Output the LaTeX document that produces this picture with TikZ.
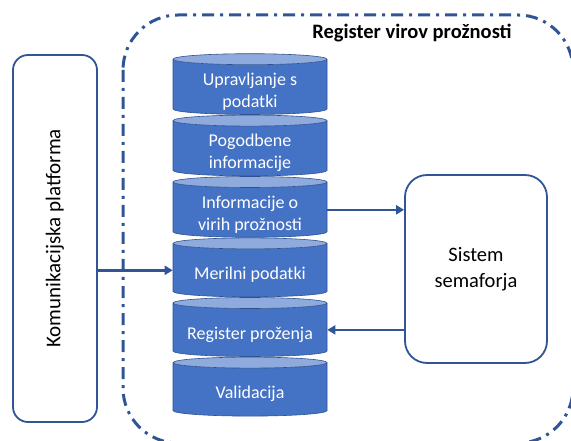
\documentclass[tikz,border=0pt]{standalone}
\usepackage{fontspec}
\setmainfont{Carlito}
\usetikzlibrary{arrows.meta, positioning, shapes.geometric}

\definecolor{dbblue}{RGB}{68,114,196}
\definecolor{dblight}{RGB}{143,170,220}
\definecolor{dbedge}{RGB}{47,82,143}
\definecolor{linkblue}{RGB}{47,85,151}

% text of a cylinder, set a little below the middle
\newcommand{\dblabel}[1]{\raisebox{-5pt}[\height][\depth]{\makebox[100pt]{\begin{tabular}{@{}c@{}}#1\end{tabular}}}}

\begin{document}
\begin{tikzpicture}[
  x=1pt, y=-1pt,
  node distance=0pt,
  every node/.style={font=\fontsize{18}{22}\selectfont},
  db/.style={cylinder, shape border rotate=90, aspect=0.11, draw=dbedge,
             line width=0.6pt, cylinder uses custom fill,
             cylinder body fill=dbblue, cylinder end fill=dblight,
             minimum width=154pt, minimum height=59pt, inner sep=0pt,
             text=white},
  panel/.style={draw=linkblue, line width=1.8pt, rounded corners=15pt,
                fill=white, align=center},
  arrow/.style={-{Triangle[length=8pt, width=9pt]}, line width=2.5pt, draw=linkblue},
  frame/.style={draw=linkblue, line width=3pt, rounded corners=55pt,
                dash pattern=on 12pt off 6pt on 3pt off 6pt}
]
\useasboundingbox (0,0) rectangle (571,441);

%% Frame
\draw[frame] (123,15) rectangle (573,443);
\node[font=\fontsize{20.5}{24}\selectfont\bfseries] (title) at (412,33) {Register virov prožnosti};

%% Nodes
\node[db] (upr) at (250,87)    {\dblabel{Upravljanje s\\podatki}};
\node[db, below=of upr] (pog)  {\dblabel{Pogodbene\\informacije}};
\node[db, below=of pog] (inf)  {\dblabel{Informacije o\\virih prožnosti}};
\node[db, below=of inf] (mer)  {\dblabel{Merilni podatki}};
\node[db, below=of mer] (reg)  {\dblabel{Register proženja}};
\node[db, below=of reg] (val)  {\dblabel{Validacija}};

\node[panel, minimum width=84pt, minimum height=367pt,
      font=\fontsize{21}{24}\selectfont] (kom) at (55,238.5)
      {\rotatebox{90}{Komunikacijska platforma}};
\node[panel, rounded corners=22pt, minimum width=142pt, minimum height=188pt,
      font=\fontsize{20.5}{26}\selectfont] (sem) at (476,269) {Sistem\\semaforja};

%% Arrows
\draw[arrow] (kom.east |- mer.west) -- (mer.west);
\draw[arrow] (inf.east) -- (inf.east -| sem.west);
\draw[arrow] (sem.west |- reg.east) -- (reg.east);

\end{tikzpicture}
\end{document}
